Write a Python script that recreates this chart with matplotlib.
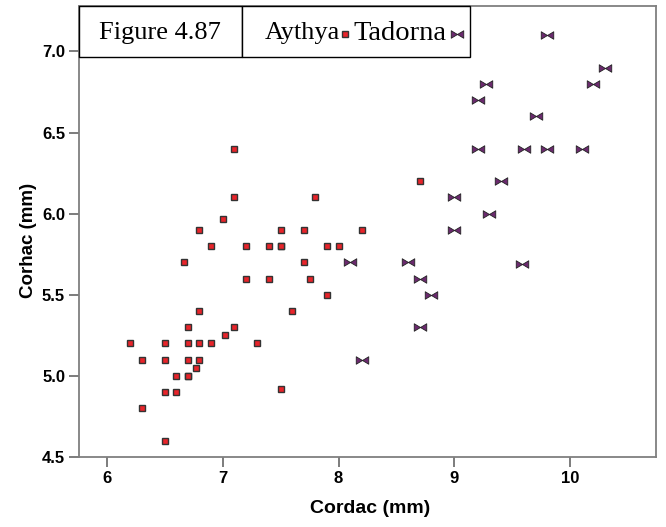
import numpy as np
import matplotlib
matplotlib.use("Agg")
import matplotlib.pyplot as plt
from matplotlib.path import Path
from matplotlib.patches import Rectangle

# Aythya (red squares)
aythya_x = [6.2, 6.3, 6.3, 6.5, 6.5, 6.5, 6.5, 6.6, 6.6, 6.67, 6.7, 6.7, 6.7, 6.7, 6.7,
            6.77, 6.8, 6.8, 6.8, 6.8, 6.9, 6.9, 7.0, 7.02, 7.1, 7.1, 7.1, 7.2, 7.2, 7.3,
            7.4, 7.4, 7.5, 7.5, 7.5, 7.5, 7.6, 7.7, 7.7, 7.75, 7.8, 7.9, 7.9, 8.0, 8.2, 8.7]
aythya_y = [5.2, 5.1, 4.8, 5.2, 5.1, 4.9, 4.6, 5.0, 4.9, 5.7, 5.3, 5.2, 5.1, 5.0, 5.0,
            5.05, 5.4, 5.2, 5.1, 5.9, 5.8, 5.2, 5.97, 5.25, 6.4, 6.1, 5.3, 5.8, 5.6, 5.2,
            5.8, 5.6, 5.9, 5.8, 5.8, 4.92, 5.4, 5.9, 5.7, 5.6, 6.1, 5.8, 5.5, 5.8, 5.9, 6.2]

# Tadorna (bowties)
tadorna_x = [8.1, 8.2, 8.6, 8.7, 8.8, 8.7, 9.0, 9.0, 9.2, 9.27, 9.2, 9.3, 9.4, 9.6,
             9.58, 9.7, 9.8, 9.8, 10.1, 10.2, 10.3]
tadorna_y = [5.7, 5.1, 5.7, 5.6, 5.5, 5.3, 6.1, 5.9, 6.7, 6.8, 6.4, 6.0, 6.2, 6.4,
             5.69, 6.6, 6.4, 7.1, 6.4, 6.8, 6.9]

xticks = [6, 7, 8, 9, 10]
yticks = [4.5, 5.0, 5.5, 6.0, 6.5, 7.0]

# bowtie marker: two triangles meeting in the middle
M, L, C = Path.MOVETO, Path.LINETO, Path.CLOSEPOLY
bowtie = Path([(-1, -0.6), (0, 0), (-1, 0.6), (-1, -0.6),
               (1, -0.6), (0, 0), (1, 0.6), (1, -0.6)],
              [M, L, L, C, M, L, L, C])

red = "#e8242a"
purple = "#6b2a6e"
sans = ["Liberation Sans Narrow", "Liberation Sans"]

fig = plt.figure(figsize=(6.66, 5.27), dpi=100)
W, H = 666, 527
ax = fig.add_axes([79 / W, 1 - 457 / H, (656 - 79) / W, (457 - 6) / H])

ax.plot(aythya_x, aythya_y, ls="none", marker="s", markersize=5,
        markerfacecolor=red, markeredgecolor="#333333", markeredgewidth=1)
ax.plot(tadorna_x, tadorna_y, ls="none", marker=bowtie, markersize=9,
        markerfacecolor=purple, markeredgecolor="#222222", markeredgewidth=0.6)

ax.set_xlim(5.76, 10.74)
ax.set_ylim(4.5, 7.28)
ax.set_xticks(xticks)
ax.set_xticklabels([str(t) for t in xticks])
ax.set_yticks(yticks)
ax.set_yticklabels([f"{t:.1f}" for t in yticks])

for s in ax.spines.values():
    s.set_color("#7f7f7f")
    s.set_linewidth(1.3)
ax.tick_params(direction="out", length=7, width=1.2, color="#666666",
               labelsize=12, pad=3)
for lab in ax.get_xticklabels() + ax.get_yticklabels():
    lab.set_fontfamily(sans)
    lab.set_fontweight("bold")

ax.set_xlabel("Cordac (mm)", fontsize=14, fontweight="bold",
              fontfamily="Liberation Sans")
ax.set_ylabel("Corhac (mm)", fontsize=13.5, fontweight="bold",
              fontfamily="Liberation Sans")
ax.xaxis.set_label_coords(0.505, -0.095)
ax.yaxis.set_label_coords(-0.072, 0.48)

# header boxes
def fx(px):
    return px / W

def fy(py):
    return 1 - py / H

fig.patches.append(Rectangle((fx(79), fy(57)), fx(242) - fx(79), fy(6) - fy(57),
                             transform=fig.transFigure, facecolor="white",
                             edgecolor="black", linewidth=1, zorder=5))
fig.patches.append(Rectangle((fx(242), fy(57)), fx(470) - fx(242), fy(6) - fy(57),
                             transform=fig.transFigure, facecolor="white",
                             edgecolor="black", linewidth=1, zorder=5))
fig.text(fx(160), fy(33), "Figure 4.87", fontsize=19, fontfamily="Liberation Serif",
         ha="center", va="center", zorder=6)
fig.text(fx(340), fy(33), "Aythya", fontsize=19, fontfamily="Liberation Serif",
         ha="right", va="center", zorder=6)
fig.text(fx(353), fy(33), "Tadorna", fontsize=20.5, fontfamily="Liberation Serif",
         ha="left", va="center", zorder=6)
fig.lines.append(plt.Line2D([fx(345)], [fy(34)], transform=fig.transFigure, ls="none",
                            marker="s", markersize=5, markerfacecolor=red,
                            markeredgecolor="#333333", markeredgewidth=1, zorder=7))
fig.lines.append(plt.Line2D([fx(457)], [fy(34)], transform=fig.transFigure, ls="none",
                            marker=bowtie, markersize=9, markerfacecolor=purple,
                            markeredgecolor="#222222", markeredgewidth=0.6, zorder=7))

fig.savefig("out.png", dpi=100)
